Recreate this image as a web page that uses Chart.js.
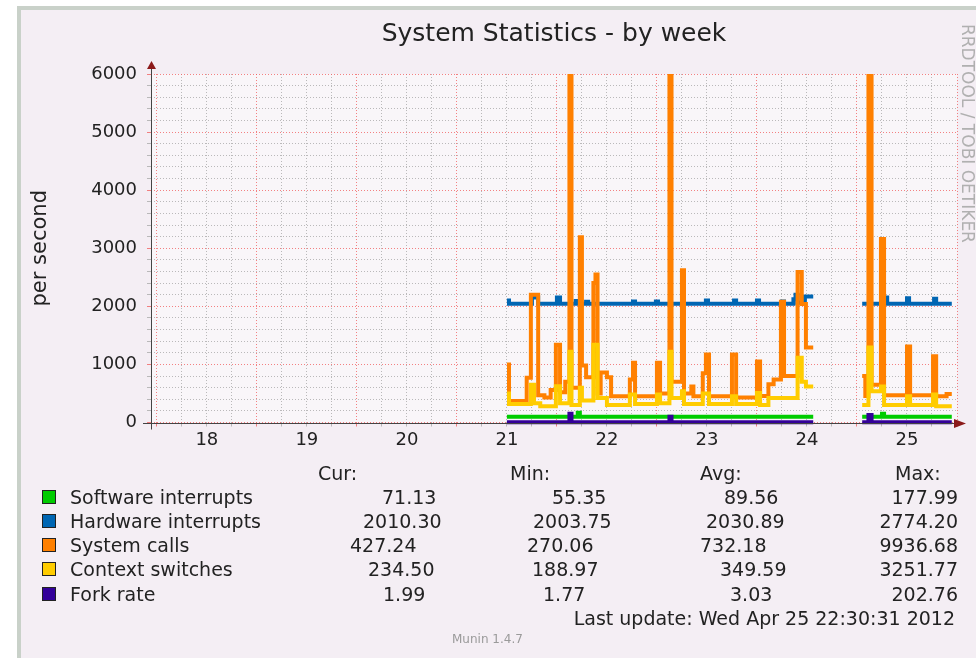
<!DOCTYPE html>
<html>
<head>
<meta charset="utf-8">
<script src="https://cdn.jsdelivr.net/npm/chart.js@4.4.0/dist/chart.umd.min.js"></script>
<style>
  html, body { margin: 0; padding: 0; background: #fff; }
  body { width: 976px; height: 658px; position: relative; overflow: hidden; font-family: "DejaVu Sans", sans-serif; color: #222; }
  #frame { position: absolute; left: 17px; top: 6px; right: 0; bottom: 0; background: #f4eef4;
           border-left: 4px solid #c9d1c9; border-top: 4px solid #c9d1c9; }
  #chart { position: absolute; left: 0; top: 0; }
  .t { position: absolute; white-space: pre; font-size: 19px; line-height: 24px; }
  .sw { position: absolute; width: 12px; height: 12px; border: 1px solid #222; }
  #rrd { position: absolute; left: 958px; top: 24px; writing-mode: vertical-rl; font-size: 17px; color: #b0b0b0; white-space: pre; }
  #munin { position: absolute; left: 452px; top: 632px; font-size: 12px; color: #9a9a9a; }
</style>
</head>
<body>
<div id="frame"></div>
<canvas id="chart" width="976" height="658"></canvas>
<div id="legend"></div>
<div id="rrd">RRDTOOL / TOBI OETIKER</div>
<div id="munin">Munin 1.4.7</div>
<script>
const dayLabels = ['18', '19', '20', '21', '22', '23', '24', '25'];

// hours since Apr 18 00:00 - each value holds until the next time, null = no data
const swTime = [84, 101, 101.5, 157.5, 157.75, 169.25, 174, 174.5, 190.75];
const swInterrupts = [100, 170, 100, 100, null, 100, 150, 100, 100];

const hwTime = [84, 84.5, 90, 91.5, 96, 96.75, 100.5, 101, 103, 103.5,
  114.25, 114.75, 119.75, 120.25, 131.75, 132.25, 138.5, 139, 144, 144.5,
  150, 150.5, 152.75, 153.25, 153.75, 155.5, 157.5, 157.75, 169.25, 174.75,
  175.25, 180, 180.5, 186.5, 187, 190.75];
const hwInterrupts = [2100, 2045, 2150, 2045, 2150, 2045, 2090, 2045, 2080, 2045,
  2085, 2045, 2085, 2045, 2100, 2045, 2100, 2045, 2100, 2045,
  2085, 2045, 2120, 2200, 2060, 2170, 2170, null, 2045, 2150,
  2045, 2140, 2045, 2130, 2045, 2045];

const sysTime = [84, 84.5, 88.75, 89.75, 91.5, 93, 94.5, 95.75, 96.75, 98,
  99, 99.5, 101.5, 102, 103, 104.75, 105.25, 105.75, 106.5, 108,
  109, 113.5, 114.25, 114.75, 120, 120.75, 123, 123.5, 126, 126.5,
  128.25, 128.75, 131, 131.75, 132.5, 138, 139, 144, 144.75, 146.75,
  148, 149.75, 150.5, 153.75, 154.75, 155.75, 157.5, 157.75,
  169.25, 170, 170.75, 171.5, 173.75, 174.5, 180, 180.75, 186.25, 187,
  189.5, 190.75];
const sysCalls = [1000, 370, 770, 2200, 470, 430, 560, 1340, 520, 700,
  9900, 600, 3190, 980, 780, 2400, 2550, 500, 860, 780,
  450, 740, 1030, 450, 1030, 500, 9900, 700, 2620, 500,
  620, 450, 850, 1170, 450, 1170, 430, 1050, 455, 660,
  740, 2080, 800, 2590, 2040, 1290, 1290, null,
  800, 455, 9900, 650, 3160, 470, 1310, 470, 1140, 450,
  490, 490];

const ctxTime = [84, 84.5, 89.75, 90.5, 92, 95.75, 96.75, 99, 99.5, 101.5,
  102, 104.75, 105.75, 108, 113.5, 114.75, 120, 120.75, 123, 123.5,
  126, 126.5, 131, 132.5, 138, 139, 144, 144.75, 146.75, 153.75,
  154.75, 155.75, 157.5, 157.75,
  169.25, 170.75, 171.5, 173.75, 174.5, 180, 180.75, 186.25, 187, 190.75];
const ctxSwitches = [500, 320, 650, 330, 280, 625, 330, 1220, 300, 600,
  380, 1340, 420, 300, 480, 320, 480, 330, 1220, 420,
  540, 320, 500, 320, 450, 320, 510, 300, 420, 1115,
  700, 620, 620, null,
  300, 1290, 540, 620, 300, 450, 300, 480, 280, 280];

const forkTime = [84, 99, 99.5, 123, 123.5, 157.5, 157.75, 169.25, 170.75, 171.5, 190.75];
const forkRate = [3, 150, 3, 100, 3, 3, null, 3, 130, 3, 3];

const seriesNames = ['Software interrupts', 'Hardware interrupts', 'System calls', 'Context switches', 'Fork rate'];
const seriesColors = ['#00cc00', '#0066b3', '#ff8000', '#ffcc00', '#330099'];
const curValues = ['71.13', '2010.30', '427.24', '234.50', '1.99'];
const minValues = ['55.35', '2003.75', '270.06', '188.97', '1.77'];
const avgValues = ['89.56', '2030.89', '732.18', '349.59', '3.03'];
const maxValues = ['177.99', '2774.20', '9936.68', '3251.77', '202.76'];

const pts = (t, v) => t.map((x, i) => ({ x: x, y: v[i] }));
const series = [
  pts(swTime, swInterrupts), pts(hwTime, hwInterrupts), pts(sysTime, sysCalls),
  pts(ctxTime, ctxSwitches), pts(forkTime, forkRate)
];

// every 6 hours, red on midnight
const xGrid = [];
for (let h = 0; h <= 192; h += 6) xGrid.push(h);

const majorGrid = 'rgba(240,90,90,0.75)';
const minorGrid = 'rgba(170,170,170,0.8)';
const tickFont = { family: 'DejaVu Sans', size: 18 };

// plot background, axis lines and arrows
const munin = {
  id: 'munin',
  beforeDraw(chart) {
    const { ctx, chartArea: a } = chart;
    ctx.save();
    ctx.fillStyle = '#f9f6f9';
    ctx.fillRect(a.left, a.top, a.right - a.left, a.bottom - a.top);
    ctx.restore();
  },
  afterDatasetsDraw(chart) {
    const { ctx, chartArea: a } = chart;
    const x0 = Math.round(a.left) + 0.5, y0 = Math.round(a.bottom) + 0.5;
    ctx.save();
    ctx.strokeStyle = '#444';
    ctx.lineWidth = 1;
    ctx.beginPath();
    ctx.moveTo(a.left - 8, y0); ctx.lineTo(a.right + 2, y0);
    ctx.moveTo(x0, a.bottom + 7); ctx.lineTo(x0, a.top - 6);
    ctx.stroke();
    ctx.fillStyle = '#8b1a1a';
    ctx.beginPath();
    ctx.moveTo(a.right - 3, y0 - 4.5); ctx.lineTo(a.right + 9, y0); ctx.lineTo(a.right - 3, y0 + 4.5);
    ctx.closePath(); ctx.fill();
    ctx.beginPath();
    ctx.moveTo(x0 - 4.5, a.top - 5); ctx.lineTo(x0, a.top - 13); ctx.lineTo(x0 + 4.5, a.top - 5);
    ctx.closePath(); ctx.fill();
    ctx.restore();
  }
};

new Chart(document.getElementById('chart'), {
  type: 'line',
  data: {
    datasets: series.map((d, i) => ({
      label: seriesNames[i],
      data: d,
      borderColor: seriesColors[i],
      backgroundColor: seriesColors[i],
      borderWidth: 4,
      pointRadius: 0,
      stepped: 'before',
      spanGaps: false,
      borderJoinStyle: 'miter',
      order: 4 - i,
      clip: { left: 0, top: 0, right: 0, bottom: 5 }
    }))
  },
  options: {
    responsive: false,
    animation: false,
    layout: { padding: { left: 20, right: 19, top: 10, bottom: 0 } },
    plugins: {
      legend: { display: false },
      tooltip: { enabled: false },
      title: {
        display: true,
        fullSize: false,
        text: 'System Statistics - by week',
        color: '#222',
        font: { family: 'DejaVu Sans', size: 25, weight: 'normal' },
        padding: { top: 9, bottom: 25 }
      }
    },
    scales: {
      x: {
        type: 'linear',
        min: -1.4,
        max: 192,
        afterBuildTicks: axis => { axis.ticks = xGrid.map(v => ({ value: v })); },
        afterFit: axis => { axis.height = 658 - 422.5; },
        border: { display: false, dash: [1, 2] },
        grid: {
          color: c => c.tick.value % 24 === 0 ? majorGrid : minorGrid,
          tickColor: c => c.tick.value % 24 === 0 ? majorGrid : minorGrid,
          tickLength: 4
        },
        ticks: {
          autoSkip: false,
          maxRotation: 0,
          padding: 3,
          color: '#222',
          font: tickFont,
          callback: v => v % 24 === 12 ? dayLabels[(v - 12) / 24] : ''
        }
      },
      y: {
        min: 0,
        max: 6000,
        afterFit: axis => { axis.width = 131; },
        border: { display: false, dash: [1, 2] },
        grid: {
          color: c => c.tick.value % 1000 === 0 ? majorGrid : minorGrid,
          tickColor: c => c.tick.value % 1000 === 0 ? majorGrid : minorGrid,
          tickLength: 4
        },
        ticks: {
          stepSize: 200,
          autoSkip: false,
          padding: 10,
          color: '#222',
          font: tickFont,
          callback: v => v % 1000 === 0 ? String(v) : ''
        },
        title: {
          display: true,
          text: 'per second',
          color: '#222',
          font: { family: 'DejaVu Sans', size: 21 },
          padding: { top: 8, bottom: 0 }
        }
      }
    }
  },
  plugins: [munin]
});

// legend rows below the graph
const legend = document.getElementById('legend');
const add = (cls, text, css) => {
  const el = document.createElement('div');
  el.className = cls;
  el.textContent = text;
  Object.assign(el.style, css);
  legend.appendChild(el);
  return el;
};
const headLeft = [318, 510, 700, 895];
['Cur:', 'Min:', 'Avg:', 'Max:'].forEach((h, i) => add('t', h, { left: headLeft[i] + 'px', top: '461px' }));
const rowTop = [485, 509, 533, 557, 582];
const colLeft = [
  [382, 552, 724], [363, 533, 706], [350, 527, 700], [368, 532, 720], [383, 543, 730]
];
seriesNames.forEach((name, r) => {
  add('sw', '', { left: '42px', top: (rowTop[r] + 5) + 'px', background: seriesColors[r] });
  add('t', name, { left: '70px', top: rowTop[r] + 'px' });
  [curValues, minValues, avgValues].forEach((col, c) =>
    add('t', col[r], { left: colLeft[r][c] + 'px', top: rowTop[r] + 'px' }));
  add('t', maxValues[r], { right: '18px', top: rowTop[r] + 'px' });
});
add('t', 'Last update: Wed Apr 25 22:30:31 2012', { right: '21px', top: '606px' });
</script>
</body>
</html>
